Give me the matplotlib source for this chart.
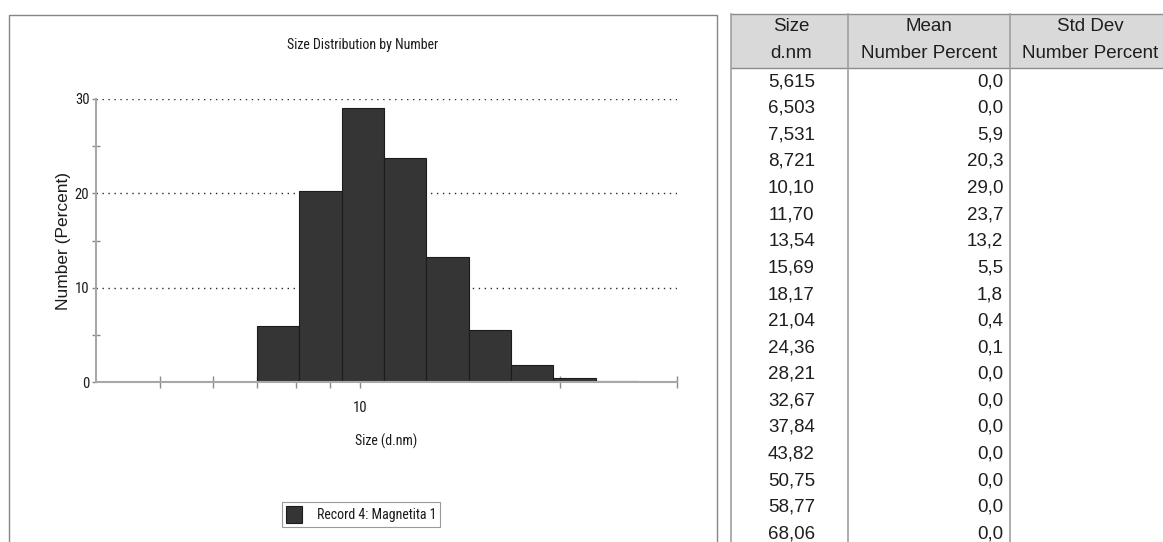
import numpy as np
import matplotlib
matplotlib.use("Agg")
import matplotlib.pyplot as plt
from matplotlib.patches import Rectangle
from matplotlib.lines import Line2D

# size classes (d.nm) and mean number distribution (%)
sizes_nm = [5.615, 6.503, 7.531, 8.721, 10.10, 11.70, 13.54, 15.69, 18.17,
            21.04, 24.36, 28.21, 32.67, 37.84, 43.82, 50.75, 58.77, 68.06]
mean_pct = [0.0, 0.0, 5.9, 20.3, 29.0, 23.7, 13.2, 5.5, 1.8,
            0.4, 0.1, 0.0, 0.0, 0.0, 0.0, 0.0, 0.0, 0.0]
record = "Record 4: Magnetita 1"

W, H = 1163, 542
NARROW = ["Roboto Condensed", "Liberation Sans Narrow", "DejaVu Sans"]
SANS = ["Liberation Sans", "DejaVu Sans"]
FS = 10


def fx(x):
    return x / W


def fy(y):
    return 1 - y / H


def comma(s):
    return s.replace(".", ",")


fig = plt.figure(figsize=(W / 100, H / 100), dpi=100)
fig.patch.set_facecolor("white")

# frame around the chart panel
fig.add_artist(Rectangle((fx(8.5), fy(560)), fx(717 - 8.5), fy(14.5) - fy(560),
                         transform=fig.transFigure, fill=False,
                         edgecolor="#858585", linewidth=1.0))

ax = fig.add_axes([fx(95.7), fy(382), fx(677 - 95.7), fy(99) - fy(382)])

# bins are geometric: edges halfway between neighbouring sizes on a log axis
logs = np.log10(sizes_nm)
mids = (logs[:-1] + logs[1:]) / 2
left = np.concatenate([[2 * logs[0] - mids[0]], mids])
right = np.concatenate([mids, [2 * logs[-1] - mids[-1]]])
bars = ax.bar(10 ** left, mean_pct, width=10 ** right - 10 ** left, align="edge",
              color="#353535", edgecolor="#1c1c1c", linewidth=0.8, zorder=2)

ax.set_xscale("log")
ax.set_xlim(4, 30)
ax.set_ylim(0, 30)

for v in [10, 20, 30]:
    ax.axhline(v, color="#2a2a2a", linewidth=1.0, linestyle=(0, (1, 3.3)), zorder=1)

for s in ["top", "right"]:
    ax.spines[s].set_visible(False)
for s in ["left", "bottom"]:
    ax.spines[s].set_color("#a8a8a8")
    ax.spines[s].set_linewidth(1.5)
    ax.spines[s].set_zorder(3)

ax.set_xticks([10])
ax.set_xticklabels(["10"])
ax.set_xticks([5, 6, 7, 8, 9, 20, 30], minor=True)
ax.xaxis.set_minor_formatter(matplotlib.ticker.NullFormatter())
ax.tick_params(axis="x", which="both", direction="inout", length=8, width=1,
               color="#8a8a8a", pad=10)
ax.set_yticks([0, 10, 20, 30])
ax.set_yticks([5, 15, 25], minor=True)
ax.tick_params(axis="y", which="major", direction="out", length=3, width=1,
               color="#8a8a8a", pad=1.5)
ax.tick_params(axis="y", which="minor", direction="inout", length=6, width=1,
               color="#8a8a8a")
for lab in ax.get_xticklabels() + ax.get_yticklabels():
    lab.set_family(NARROW)
    lab.set_fontsize(FS + 0.5)
    lab.set_color("#1a1a1a")

ax.set_xlabel("Size (d.nm)", family=NARROW, fontsize=FS, color="#1a1a1a")
ax.xaxis.label.set_va("center")
ax.xaxis.set_label_coords(0.5, -(441.7 - 382) / 283)
ax.set_ylabel("Number (Percent)", family=SANS, fontsize=12.5, color="#1a1a1a")
ax.yaxis.label.set_va("center")
ax.yaxis.set_label_coords(-(95.7 - 63.5) / 581.3, 0.5)

fig.text(fx(362.5), fy(45), "Size Distribution by Number", family=NARROW,
         fontsize=FS, color="#1a1a1a", ha="center", va="center")

leg = ax.legend([bars], [record], loc="center",
                bbox_to_anchor=(fx(361), fy(514.5)), bbox_transform=fig.transFigure,
                prop={"family": NARROW, "size": FS}, fancybox=False,
                edgecolor="#9a9a9a", framealpha=1, handlelength=1.15, handleheight=1.45,
                handletextpad=1.1, borderpad=0.28, borderaxespad=0)
leg.get_frame().set_linewidth(0.8)
for t in leg.get_texts():
    t.set_color("#1a1a1a")

# results table
tx0, tx1, tx2, tx3 = 731, 848, 1010, 1172
hy0, hy1 = 13.5, 68
fig.add_artist(Rectangle((fx(tx0), fy(hy1)), fx(tx3 - tx0), fy(hy0) - fy(hy1),
                         transform=fig.transFigure, facecolor="#d9d9d9",
                         edgecolor="none"))
for y in [hy0, hy1]:
    fig.add_artist(Line2D([fx(tx0), fx(tx3)], [fy(y), fy(y)], transform=fig.transFigure,
                          color="#8c8c8c", linewidth=1.0))
for x in [tx0, tx1, tx2]:
    fig.add_artist(Line2D([fx(x), fx(x)], [fy(hy0), fy(560)], transform=fig.transFigure,
                          color="#a0a0a0", linewidth=1.2))

TS = 13.5
head = [("Size", "d.nm"), ("Mean", "Number Percent"), ("Std Dev", "Number Percent")]
centres = [(tx0 + tx1) / 2 + 2, (tx1 + tx2) / 2, 1090]
for (a, b), cx in zip(head, centres):
    fig.text(fx(cx), fy(26.7), a, family=SANS, fontsize=TS, color="#1e1e1e",
             ha="center", va="center")
    fig.text(fx(cx), fy(53.3), b, family=SANS, fontsize=TS, color="#1e1e1e",
             ha="center", va="center")

for i, (s, m) in enumerate(zip(sizes_nm, mean_pct)):
    y = 81.7 + 26.6 * i
    fig.text(fx(centres[0]), fy(y), comma("{:#.4g}".format(s)), family=SANS,
             fontsize=TS, color="#1e1e1e", ha="center", va="center")
    fig.text(fx(1003), fy(y), comma("{:.1f}".format(m)), family=SANS,
             fontsize=TS, color="#1e1e1e", ha="right", va="center")

fig.savefig("out.png", dpi=100, facecolor="white")
